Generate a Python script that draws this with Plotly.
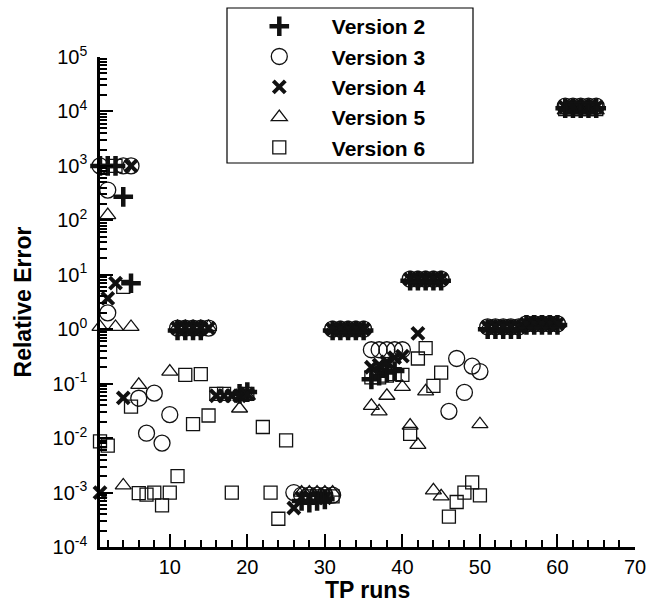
import plotly.graph_objects as go

# ---- data ----
v2_x = [1, 2, 3, 4, 5, 11, 12, 13, 14, 19, 20, 27, 28, 29, 30,
        31, 32, 33, 34, 35, 36, 37, 38, 39, 41, 42, 43, 44, 45,
        51, 52, 53, 54, 55, 56, 57, 58, 59, 60, 61, 62, 63, 64, 65]
v2_y = [1000, 1000, 1000, 270, 7, 0.95, 0.95, 0.95, 0.95, 0.065, 0.07,
        0.0007, 0.00065, 0.0007, 0.00075,
        0.95, 0.95, 0.95, 0.95, 0.95, 0.12, 0.14, 0.16, 0.17,
        7.8, 7.8, 7.8, 7.8, 7.8,
        1.0, 1.0, 1.0, 1.0, 1.0, 1.2, 1.2, 1.2, 1.2, 1.2,
        11500, 11500, 11500, 11500, 11500]

v3_x = [1, 2, 2, 4, 5, 6, 7, 8, 9, 10, 11, 12, 13, 14, 15,
        26, 27, 28, 29, 30, 31, 31, 32, 33, 34, 35,
        36, 37, 38, 39, 40, 41, 42, 43, 44, 45,
        46, 47, 48, 49, 50, 51, 52, 53, 54, 55, 56, 57, 58, 59, 60,
        61, 62, 63, 64, 65]
v3_y = [1000, 360, 2.0, 1000, 1000, 0.054, 0.0123, 0.067, 0.0081, 0.027,
        1.05, 1.05, 1.05, 1.05, 1.05,
        0.001, 0.0009, 0.0009, 0.0009, 0.0009, 0.0009, 1.0, 1.0, 1.0, 1.0, 1.0,
        0.42, 0.42, 0.42, 0.42, 0.42, 8.3, 8.3, 8.3, 8.3, 8.3,
        0.031, 0.29, 0.069, 0.21, 0.167,
        1.1, 1.1, 1.1, 1.1, 1.1, 1.25, 1.25, 1.25, 1.25, 1.25,
        12500, 12500, 12500, 12500, 12500]

v4_x = [1, 2, 3, 4, 5, 11, 12, 13, 14, 15, 16, 17, 18, 19, 20,
        26, 27, 28, 29, 30, 31, 32, 33, 34, 35,
        36, 37, 38, 39, 40, 42, 41, 42, 43, 44, 45,
        51, 52, 53, 54, 55, 56, 57, 58, 59, 60, 61, 62, 63, 64, 65]
v4_y = [0.001, 3.7, 7, 0.055, 1000, 1.05, 1.05, 1.05, 1.05, 1.05,
        0.06, 0.06, 0.06, 0.06, 0.065,
        0.00052, 0.0008, 0.0008, 0.0008, 0.0008, 1.0, 1.0, 1.0, 1.0, 1.0,
        0.2, 0.22, 0.25, 0.3, 0.32, 0.84, 8.3, 8.3, 8.3, 8.3, 8.3,
        1.1, 1.1, 1.1, 1.1, 1.1, 1.25, 1.25, 1.25, 1.25, 1.25,
        12000, 12000, 12000, 12000, 12000]

v5_x = [1, 2, 3, 4, 5, 6, 10, 11, 12, 13, 14, 15, 19, 20,
        27, 28, 29, 30, 31, 31, 32, 33, 34, 35,
        36, 37, 38, 40, 41, 42, 43, 44, 45, 50,
        41, 42, 43, 44, 45,
        51, 52, 53, 54, 55, 56, 57, 58, 59, 60, 61, 62, 63, 64, 65]
v5_y = [1.1, 125, 1.1, 0.00135, 1.1, 0.095, 0.167,
        1.1, 1.1, 1.1, 1.1, 1.1, 0.035, 0.06,
        0.001, 0.001, 0.001, 0.001, 0.001, 1.0, 1.0, 1.0, 1.0, 1.0,
        0.039, 0.031, 0.06, 0.087, 0.017, 0.0075, 0.072, 0.0011, 0.00085, 0.018,
        8.3, 8.3, 8.3, 8.3, 8.3,
        1.1, 1.1, 1.1, 1.1, 1.1, 1.25, 1.25, 1.25, 1.25, 1.25,
        10500, 10500, 10500, 10500, 10500]

v6_x = [1, 2, 3, 4, 5, 6, 7, 8, 9, 10, 11, 12, 13, 14, 15, 16, 17, 18, 20,
        22, 23, 24, 25, 28, 29, 30, 31,
        36, 37, 38, 39, 40, 41, 42, 43, 44, 45, 46, 47, 48, 49, 50,
        61, 62, 63, 64, 65]
v6_y = [0.0087, 0.0073, 1000, 6, 0.038, 0.00098, 0.00092, 0.001, 0.00058, 0.001,
        0.002, 0.145, 0.018, 0.15, 0.026, 0.065, 0.065, 0.001, 0.065,
        0.016, 0.001, 0.00033, 0.0091, 0.00085, 0.00085, 0.00085, 0.00085,
        0.13, 0.13, 0.14, 0.15, 0.145, 0.012, 0.29, 0.45, 0.091, 0.16,
        0.00036, 0.00067, 0.001, 0.00154, 0.00089,
        11000, 11000, 11000, 11000, 11000]

names = ["Version 2", "Version 3", "Version 4", "Version 5", "Version 6"]
y_decades = [1e-4, 1e-3, 1e-2, 1e-1, 1e0, 1e1, 1e2, 1e3, 1e4, 1e5]
y_ticktext = ["10<sup>-4</sup>", "10<sup>-3</sup>", "10<sup>-2</sup>", "10<sup>-1</sup>",
              "10<sup>0</sup>", "10<sup>1</sup>", "10<sup>2</sup>", "10<sup>3</sup>",
              "10<sup>4</sup>", "10<sup>5</sup>"]
y_minor_digits = [2, 3, 4, 5, 6, 7, 8, 9]
x_tickvals = [10, 20, 30, 40, 50, 60, 70]
x_minor_vals = [2, 4, 6, 8, 12, 14, 16, 18, 22, 24, 26, 28, 32, 34, 36, 38,
                42, 44, 46, 48, 52, 54, 56, 58, 62, 64, 66, 68]
x_title = "TP runs"
y_title = "Relative Error"

y_minor_vals = [d * m for d in y_decades[:-1] for m in y_minor_digits]

FONT = "Arial, Liberation Sans, Helvetica, sans-serif"
INK = "#111111"

styles = [
    dict(symbol="cross-thin-open", size=14, line=dict(color=INK, width=4.5)),
    dict(symbol="circle-open", size=16, line=dict(color=INK, width=1.3)),
    dict(symbol="x-thin-open", size=12, line=dict(color=INK, width=4)),
    dict(symbol="triangle-up-open", size=14, line=dict(color=INK, width=1.3)),
    dict(symbol="square-open", size=13, line=dict(color=INK, width=1.3)),
]

fig = go.Figure()
# empty trace that only registers the overlay axis carrying the minor log ticks
fig.add_trace(go.Scatter(x=[], y=[], yaxis="y2", showlegend=False, hoverinfo="skip"))
for nm, xs, ys, st in zip(names, [v2_x, v3_x, v4_x, v5_x, v6_x],
                          [v2_y, v3_y, v4_y, v5_y, v6_y], styles):
    fig.add_trace(go.Scatter(x=xs, y=ys, mode="markers", name=nm,
                             marker=dict(color=INK, **st), cliponaxis=False))

fig.update_layout(
    width=661, height=606,
    margin=dict(l=100, r=26, t=57, b=59, autoexpand=False),
    paper_bgcolor="white", plot_bgcolor="white",
    font=dict(family=FONT, color="black"),
    showlegend=True,
    legend=dict(x=0.237, y=1.104, xanchor="left", yanchor="top",
                bgcolor="rgba(0,0,0,0)", borderwidth=0,
                itemwidth=95, tracegroupgap=0,
                font=dict(family=FONT, size=21, color="black", weight="bold")),
    shapes=[dict(type="rect", xref="paper", yref="paper",
                 x0=(227 - 100) / 535, x1=(473 - 100) / 535,
                 y0=(547 - 163) / 490, y1=(547 - 8) / 490,
                 line=dict(color="black", width=1.2), fillcolor="rgba(0,0,0,0)")],
    annotations=[dict(text="<b>" + x_title + "</b>", xref="paper", yref="paper",
                      x=0.5, y=-0.087, xanchor="center", yanchor="middle",
                      showarrow=False,
                      font=dict(family=FONT, size=23, color="black"))],
    yaxis2=dict(type="log", range=[-4, 5], overlaying="y", side="left",
                anchor="x", tickmode="array", tickvals=y_minor_vals,
                ticks="inside", ticklen=7, tickwidth=1.5, tickcolor="black",
                showticklabels=False, showline=False, showgrid=False,
                zeroline=False),
)

fig.update_xaxes(
    range=[1, 70], tickmode="array", tickvals=x_tickvals,
    ticks="inside", ticklen=13, tickwidth=2, tickcolor="black",
    minor=dict(tickmode="array", tickvals=x_minor_vals, ticks="inside",
               ticklen=7, tickwidth=1.5, tickcolor="black", showgrid=False),
    showline=True, linewidth=2.5, linecolor="black", mirror=False,
    showgrid=False, zeroline=False,
    tickfont=dict(family=FONT, size=20, color="black"),
)
fig.layout.yaxis.update(
    type="log", range=[-4, 5], tickmode="array",
    tickvals=y_decades, ticktext=y_ticktext,
    ticks="inside", ticklen=13, tickwidth=2, tickcolor="black",
    showline=True, linewidth=2.5, linecolor="black", mirror=False,
    showgrid=False, zeroline=False,
    tickfont=dict(family=FONT, size=20, color="black"),
    ticklabelstandoff=6,
    title=dict(text="<b>" + y_title + "</b>", standoff=15,
               font=dict(family=FONT, size=23, color="black")),
)

fig.write_html("out.html")
